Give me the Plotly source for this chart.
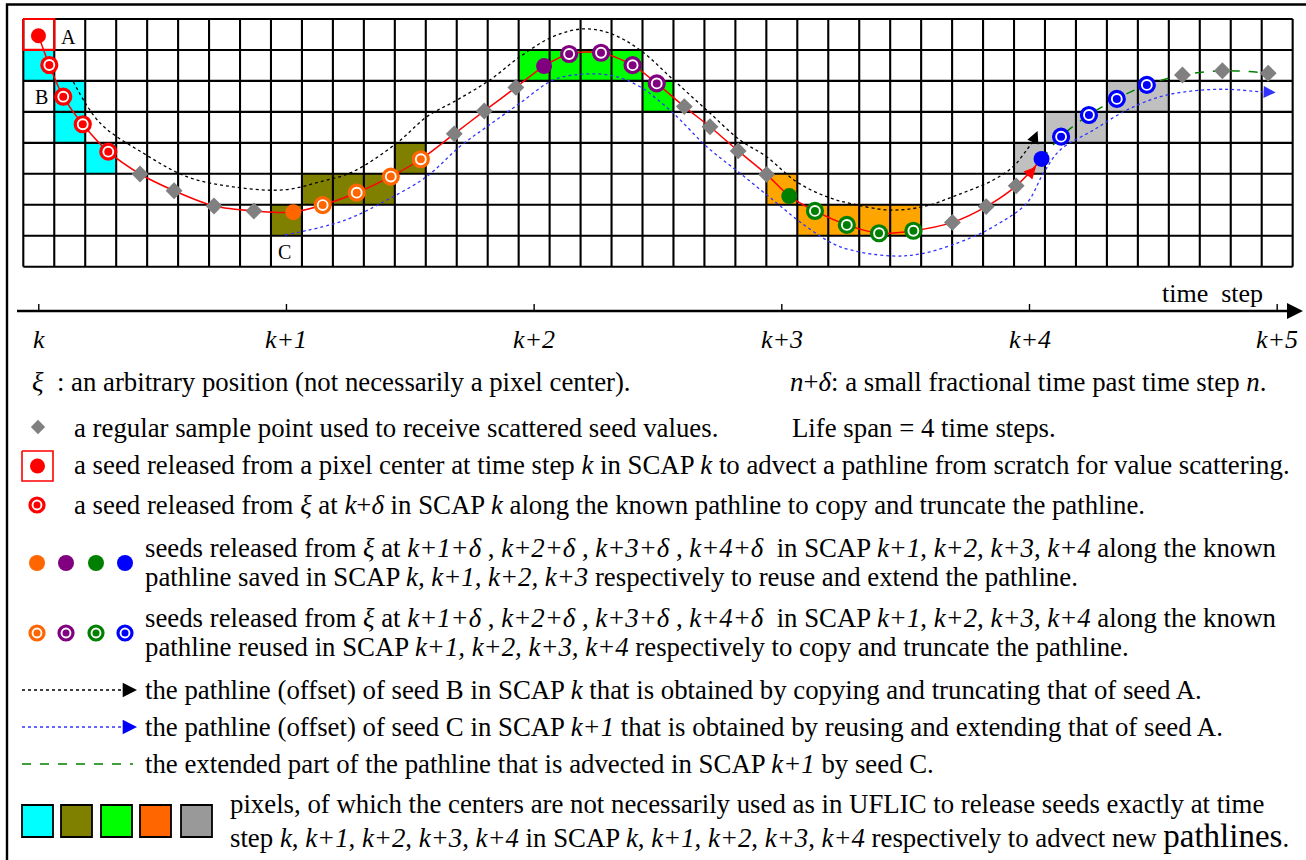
import plotly.graph_objects as go

# ---------------- canvas / grid geometry ----------------
W, H = 1306, 860
CELL = 30.96          # pixel size of one grid cell
X0, Y0 = 23.3, 19.0   # top-left corner of the grid (px)
NCOLS, NROWS = 41, 8
STEP = 8              # cells per time step
FONT = "Liberation Serif, Times New Roman, serif"

# ---------------- data (grid-cell units) ----------------
CYAN_CELLS = [(0, 1), (1, 2), (1, 3), (2, 4)]
OLIVE_CELLS = [(8, 6), (9, 5), (10, 5), (11, 5), (12, 4)]
LIME_CELLS = [(16, 1), (17, 1), (18, 1), (19, 1), (20, 2)]
ORANGE_CELLS = [(24, 5), (25, 6), (26, 6), (27, 6), (28, 6)]
GRAY_CELLS = [(32, 4), (33, 3), (34, 3), (35, 2), (36, 2)]

SEED_A_X, SEED_A_Y = [0.49], [0.54]
RED_RING_X = [0.84, 1.29, 1.92, 2.745]
RED_RING_Y = [1.486, 2.51, 3.40, 4.286]

DIAM1_X = [3.77, 4.87, 6.16, 7.45]
DIAM1_Y = [5.006, 5.546, 6.04, 6.20]
ORANGE_FILL_X, ORANGE_FILL_Y = [8.72], [6.24]
ORANGE_RING_X = [9.67, 10.77, 11.87, 12.84]
ORANGE_RING_Y = [6.01, 5.61, 5.09, 4.53]
DIAM2_X = [13.92, 14.89, 15.91]
DIAM2_Y = [3.71, 2.97, 2.21]
PURPLE_FILL_X, PURPLE_FILL_Y = [16.82], [1.52]
PURPLE_RING_X = [17.63, 18.66, 19.68, 20.46]
PURPLE_RING_Y = [1.13, 1.09, 1.49, 2.08]
DIAM3_X = [21.35, 22.18, 23.09, 24.01]
DIAM3_Y = [2.83, 3.48, 4.26, 5.02]
GREEN_FILL_X, GREEN_FILL_Y = [24.74], [5.72]
GREEN_RING_X = [25.57, 26.60, 27.64, 28.75]
GREEN_RING_Y = [6.20, 6.65, 6.92, 6.84]
DIAM4_X = [30.01, 31.10, 32.07]
DIAM4_Y = [6.57, 6.06, 5.39]
BLUE_FILL_X, BLUE_FILL_Y = [32.89], [4.52]
BLUE_RING_X = [33.52, 34.42, 35.32, 36.29]
BLUE_RING_Y = [3.80, 3.10, 2.58, 2.13]
DIAM5_X = [37.44, 38.73, 40.21]
DIAM5_Y = [1.81, 1.67, 1.75]

# offset pathline of seed B (black dotted)
PATH_B_X = [1.615, 2.48, 3.87, 5.28, 6.77, 8.39, 9.58, 10.65, 12.06, 13.03, 14.00, 15.07,
            16.04, 17.11, 18.08, 18.95, 19.92, 21.0, 22.07, 23.15, 24.01, 24.98, 25.95,
            26.81, 27.99, 29.07, 30.18, 31.33, 31.97, 32.41, 32.62]
PATH_B_Y = [2.025, 3.36, 4.33, 5.09, 5.42, 5.52, 5.26, 4.93, 4.01, 3.16, 2.62, 1.97,
            1.22, 0.57, 0.32, 0.46, 1.00, 1.97, 2.94, 3.91, 4.45, 5.26, 5.74,
            5.98, 6.17, 6.06, 5.68, 5.20, 4.77, 4.23, 3.95]
# offset pathline of seed C (blue dotted)
PATH_C_X = [8.45, 9.91, 10.66, 11.74, 13.03, 14.10, 14.97, 16.04, 17.12, 18.09, 19.06,
            19.92, 21.0, 22.07, 23.15, 24.22, 25.30, 26.37, 27.99, 29.07, 30.57, 31.33,
            32.41, 32.95, 33.49, 34.56, 35.64, 36.72, 37.79, 38.87, 39.94, 40.05]
PATH_C_Y = [6.98, 6.65, 6.39, 5.85, 5.09, 4.12, 3.48, 2.72, 1.97, 1.78, 1.84,
            2.19, 3.05, 4.12, 4.98, 5.85, 6.71, 7.35, 7.65, 7.57, 7.08, 6.71,
            5.95, 4.98, 4.23, 3.59, 2.94, 2.51, 2.32, 2.27, 2.35, 2.355]

TIME_LABELS = ["k", "k+1", "k+2", "k+3", "k+4", "k+5"]

C_ORANGE, C_PURPLE, C_GREEN, C_BLUE = "#FF6600", "#800080", "#008000", "#0000FF"
C_DIAM = "#808080"


# helpers converting page pixels into axis units (layout only)
def ux(px):
    return (px - X0) / CELL


def uy(py):
    return (py - Y0) / CELL


fig = go.Figure()

# ---------------- coloured cells ----------------
for cells, col in [(CYAN_CELLS, "#00FFFF"), (OLIVE_CELLS, "#808000"), (LIME_CELLS, "#00FF00"),
                   (ORANGE_CELLS, "#FFA500"), (GRAY_CELLS, "#C0C0C0")]:
    for c, r in cells:
        fig.add_shape(type="rect", xref="x", yref="y", x0=c, x1=c + 1, y0=r, y1=r + 1,
                      fillcolor=col, line_width=0, layer="below")

# ---------------- grid ----------------
gx, gy = [], []
for c in range(NCOLS + 1):
    gx += [c, c, None]
    gy += [0, NROWS, None]
for r in range(NROWS + 1):
    gx += [0, NCOLS, None]
    gy += [r, r, None]
fig.add_trace(go.Scatter(x=gx, y=gy, mode="lines", line=dict(color="black", width=2.1),
                         hoverinfo="skip"))

# red box around seed A cell
fig.add_trace(go.Scatter(x=[0, 1, 1, 0, 0], y=[0, 0, 1, 1, 0], mode="lines",
                         line=dict(color="#FF0000", width=2.2), hoverinfo="skip"))

# ---------------- pathlines ----------------
fig.add_trace(go.Scatter(x=PATH_B_X, y=PATH_B_Y, mode="lines",
                         line=dict(color="black", width=1.3, dash="dot", shape="spline"),
                         hoverinfo="skip"))
fig.add_trace(go.Scatter(x=PATH_C_X, y=PATH_C_Y, mode="lines",
                         line=dict(color="#3333FF", width=1.3, dash="dot", shape="spline"),
                         hoverinfo="skip"))

red_x = (SEED_A_X + RED_RING_X + DIAM1_X + ORANGE_FILL_X + ORANGE_RING_X + DIAM2_X
         + PURPLE_FILL_X + PURPLE_RING_X + DIAM3_X + GREEN_FILL_X + GREEN_RING_X + DIAM4_X
         + BLUE_FILL_X)
red_y = (SEED_A_Y + RED_RING_Y + DIAM1_Y + ORANGE_FILL_Y + ORANGE_RING_Y + DIAM2_Y
         + PURPLE_FILL_Y + PURPLE_RING_Y + DIAM3_Y + GREEN_FILL_Y + GREEN_RING_Y + DIAM4_Y
         + BLUE_FILL_Y)
fig.add_trace(go.Scatter(x=red_x, y=red_y, mode="lines",
                         line=dict(color="#FF0000", width=1.5, shape="spline", smoothing=0.8),
                         hoverinfo="skip"))
fig.add_trace(go.Scatter(x=BLUE_FILL_X + BLUE_RING_X + DIAM5_X, y=BLUE_FILL_Y + BLUE_RING_Y + DIAM5_Y,
                         mode="lines",
                         line=dict(color=C_GREEN, width=1.5, dash="dash", shape="spline"),
                         hoverinfo="skip"))

# ---------------- markers ----------------
DX = DIAM1_X + DIAM2_X + DIAM3_X + DIAM4_X + DIAM5_X
DY = DIAM1_Y + DIAM2_Y + DIAM3_Y + DIAM4_Y + DIAM5_Y
fig.add_trace(go.Scatter(x=DX, y=DY, mode="markers",
                         marker=dict(symbol="diamond", size=13, color=C_DIAM, line_width=0),
                         hoverinfo="skip"))


def filled(xs, ys, color, size=16):
    fig.add_trace(go.Scatter(x=xs, y=ys, mode="markers",
                             marker=dict(symbol="circle", size=size, color=color, line_width=0),
                             hoverinfo="skip"))


def ring(xs, ys, color, size=15, dot=8):
    fig.add_trace(go.Scatter(x=xs, y=ys, mode="markers",
                             marker=dict(symbol="circle", size=size, color="white",
                                         line=dict(color=color, width=3.2)),
                             hoverinfo="skip"))
    fig.add_trace(go.Scatter(x=xs, y=ys, mode="markers",
                             marker=dict(symbol="circle", size=dot, color=color, line_width=0),
                             hoverinfo="skip"))


filled(SEED_A_X, SEED_A_Y, "#FF0000", 15)
ring(RED_RING_X, RED_RING_Y, "#FF0000")
filled(ORANGE_FILL_X, ORANGE_FILL_Y, C_ORANGE)
ring(ORANGE_RING_X, ORANGE_RING_Y, C_ORANGE)
filled(PURPLE_FILL_X, PURPLE_FILL_Y, C_PURPLE)
ring(PURPLE_RING_X, PURPLE_RING_Y, C_PURPLE)
filled(GREEN_FILL_X, GREEN_FILL_Y, C_GREEN)
ring(GREEN_RING_X, GREEN_RING_Y, C_GREEN)
filled(BLUE_FILL_X, BLUE_FILL_Y, C_BLUE)
ring(BLUE_RING_X, BLUE_RING_Y, C_BLUE)

annotations = []


def arrow(hx, hy, tx, ty, color, size=2.2, width=1.2):
    annotations.append(dict(x=hx, y=hy, ax=tx, ay=ty, xref="x", yref="y", axref="x", ayref="y",
                            showarrow=True, arrowhead=2, arrowsize=size, arrowwidth=width,
                            arrowcolor=color, text=""))


# pathline arrowheads
arrow(32.76, 3.62, PATH_B_X[-1], PATH_B_Y[-1], "black", size=2.0, width=1.2)
arrow(40.45, 2.37, PATH_C_X[-1], PATH_C_Y[-1], "#3333FF", size=2.0, width=1.2)
arrow(BLUE_FILL_X[0] - 0.18, BLUE_FILL_Y[0] + 0.25, BLUE_FILL_X[0] - 0.5, BLUE_FILL_Y[0] + 0.6, "#FF0000",
      size=2.0, width=1.2)


def label(x, y, s, size=20, anchor="center"):
    annotations.append(dict(x=x, y=y, xref="x", yref="y", text=s, showarrow=False,
                            xanchor=anchor, yanchor="middle",
                            font=dict(family=FONT, size=size, color="black")))


label(1.45, 0.58, "A")
label(0.59, 2.51, "B")
label(8.45, 7.53, "C")

# ---------------- time axis ----------------
TL_Y = uy(311)
fig.add_trace(go.Scatter(x=[ux(17), ux(1290)], y=[TL_Y, TL_Y], mode="lines",
                         line=dict(color="black", width=2.4), hoverinfo="skip"))
tx, ty = [], []
for i in range(len(TIME_LABELS)):
    xc = 0.5 + STEP * i
    tx += [xc, xc, None]
    ty += [TL_Y, TL_Y - 7 / CELL, None]
    label(xc, uy(339), "<i>%s</i>" % TIME_LABELS[i], size=26)
fig.add_trace(go.Scatter(x=tx, y=ty, mode="lines", line=dict(color="black", width=1.4),
                         hoverinfo="skip"))
arrow(ux(1303), TL_Y, ux(1285), TL_Y, "black", size=1.6, width=2)
label(ux(1212), uy(293), "time  step", size=26)

# ---------------- frame ----------------
fig.add_trace(go.Scatter(x=[ux(7), ux(7), ux(1306)], y=[uy(860), uy(4.5), uy(4.5)], mode="lines",
                         line=dict(color="black", width=2.4), hoverinfo="skip"))

# ---------------- key ----------------
TS = 26.8


def text(px, py, s, size=TS):
    annotations.append(dict(x=ux(px), y=uy(py), xref="x", yref="y", text=s, showarrow=False,
                            xanchor="left", yanchor="middle",
                            font=dict(family=FONT, size=size, color="black")))


# glyphs
fig.add_trace(go.Scatter(x=[ux(38)], y=[uy(427)], mode="markers",
                         marker=dict(symbol="diamond", size=11, color=C_DIAM, line_width=0),
                         hoverinfo="skip"))
fig.add_trace(go.Scatter(x=[ux(22), ux(53), ux(53), ux(22), ux(22)],
                         y=[uy(451), uy(451), uy(481), uy(481), uy(451)], mode="lines",
                         line=dict(color="#FF0000", width=1.6), hoverinfo="skip"))
filled([ux(37.5)], [uy(466)], "#FF0000", 15)
ring([ux(37)], [uy(505)], "#FF0000", size=14, dot=7)
KEY_X = [37, 66, 96, 125]
for kx, col in zip(KEY_X, [C_ORANGE, C_PURPLE, C_GREEN, C_BLUE]):
    filled([ux(kx)], [uy(563)], col, 16)
    ring([ux(kx)], [uy(633)], col, size=14, dot=7)

fig.add_trace(go.Scatter(x=[ux(22), ux(122)], y=[uy(690), uy(690)], mode="lines",
                         line=dict(color="black", width=1.3, dash="dot"), hoverinfo="skip"))
arrow(ux(137), uy(690), ux(122), uy(690), "black", size=2.2, width=1.3)
fig.add_trace(go.Scatter(x=[ux(22), ux(122)], y=[uy(727), uy(727)], mode="lines",
                         line=dict(color="#3333FF", width=1.3, dash="dot"), hoverinfo="skip"))
arrow(ux(137), uy(727), ux(122), uy(727), "#0000FF", size=2.2, width=1.3)
fig.add_trace(go.Scatter(x=[ux(22), ux(133)], y=[uy(764), uy(764)], mode="lines",
                         line=dict(color=C_GREEN, width=1.3, dash="dash"), hoverinfo="skip"))

for (a, b), col in zip([(22, 53), (61, 92), (101, 132), (140, 171), (181, 212)],
                       ["#00FFFF", "#808000", "#00FF00", "#FF6600", "#999999"]):
    fig.add_shape(type="rect", xref="x", yref="y", x0=ux(a), x1=ux(b), y0=uy(805), y1=uy(837),
                  fillcolor=col, line=dict(color="black", width=1.8))

seeds_head = ("seeds released from <i>ξ</i> at <i>k+1+δ</i> , <i>k+2+δ</i> , <i>k+3+δ</i> , "
              "<i>k+4+δ</i>  in SCAP <i>k+1</i>, <i>k+2</i>, <i>k+3</i>, <i>k+4</i> along the known")
text(30, 382, "<i>ξ</i>  : an arbitrary position (not necessarily a pixel center).")
text(788, 382, "<i>n</i>+<i>δ</i>: a small fractional time past time step <i>n</i>.")
text(72, 428, "a regular sample point used to receive scattered seed values.")
text(790, 428, "Life span = 4 time steps.")
text(72, 465, "a seed released from a pixel center at time step <i>k</i> in SCAP <i>k</i> "
              "to advect a pathline from scratch for value scattering.")
text(72, 505, "a seed released from <i>ξ</i> at <i>k</i>+<i>δ</i> in SCAP <i>k</i> along the "
              "known pathline to copy and truncate the pathline.")
text(143, 548, seeds_head)
text(143, 577, "pathline saved in SCAP <i>k, k+1, k+2, k+3</i> respectively to reuse and extend the pathline.")
text(143, 618, seeds_head)
text(143, 647, "pathline reused in SCAP <i>k+1, k+2, k+3, k+4</i> respectively to copy and truncate the pathline.")
text(143, 690, "the pathline (offset) of seed B in SCAP <i>k</i> that is obtained by copying and "
               "truncating that of seed A.")
text(143, 727, "the pathline (offset) of seed C in SCAP <i>k+1</i> that is obtained by reusing and "
               "extending that of seed A.")
text(143, 764, "the extended part of the pathline that is advected in SCAP <i>k+1</i> by seed C.")
text(228, 804, "pixels, of which the centers are not necessarily used as in UFLIC to release seeds "
               "exactly at time")
text(228, 836, "step <i>k</i>, <i>k+1</i>, <i>k+2</i>, <i>k+3</i>, <i>k+4</i> in SCAP <i>k</i>, "
               "<i>k+1</i>, <i>k+2</i>, <i>k+3</i>, <i>k+4</i> respectively to advect new "
               "<span style='font-size:33px'>pathlines</span>.")

fig.update_layout(
    width=W, height=H, margin=dict(l=0, r=0, t=0, b=0),
    paper_bgcolor="white", plot_bgcolor="white", showlegend=False,
    xaxis=dict(range=[-X0 / CELL, (W - X0) / CELL], visible=False, fixedrange=True),
    yaxis=dict(range=[(H - Y0) / CELL, -Y0 / CELL], visible=False, fixedrange=True),
    annotations=annotations,
)

fig.write_html("out.html", config={"displayModeBar": False},
               post_script="document.body.style.margin='0';")
